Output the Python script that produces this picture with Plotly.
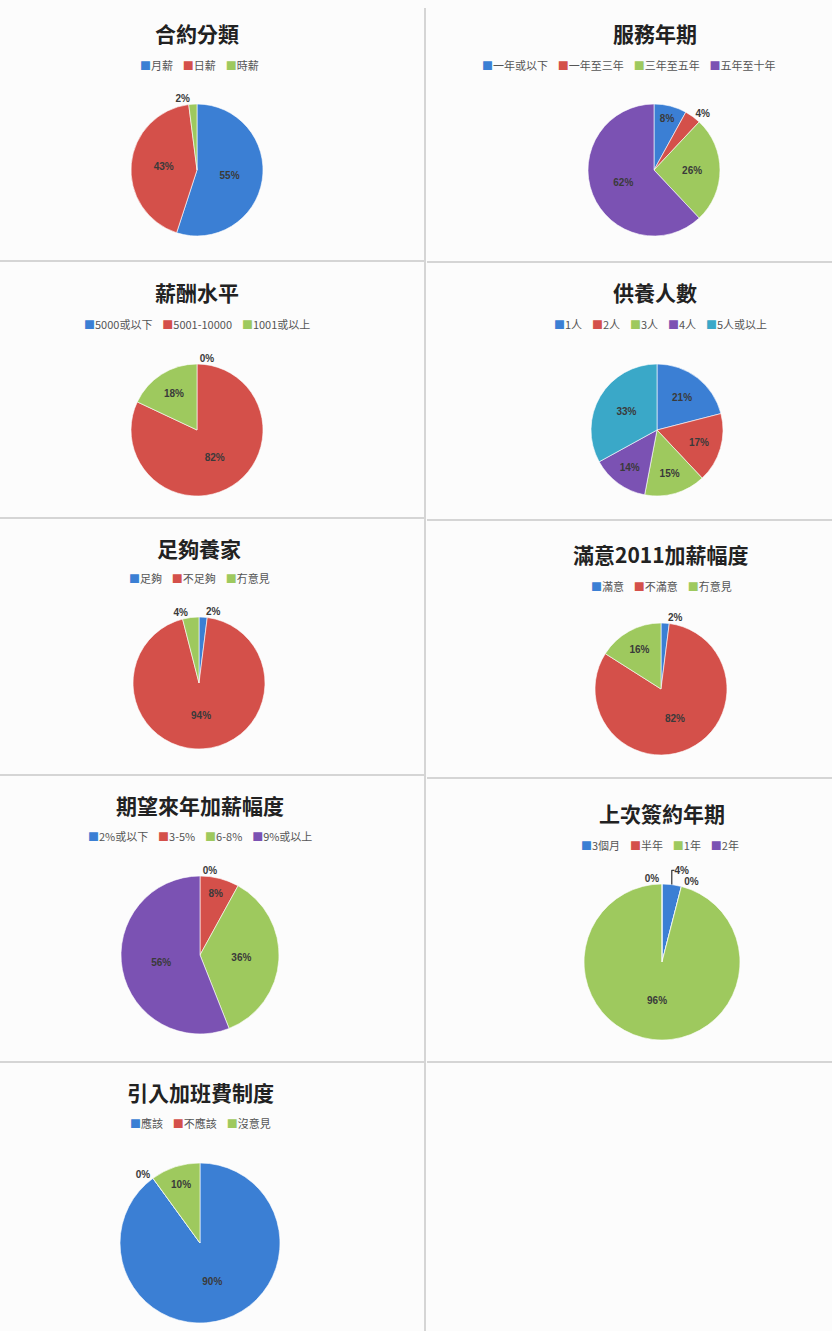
import plotly.graph_objects as go

W, H = 832, 1331

# ---- data ----
titles = ["合約分類", "服務年期", "薪酬水平", "供養人數", "足夠養家",
          "滿意2011加薪幅度", "期望來年加薪幅度", "上次簽約年期", "引入加班費制度"]
labels1 = ["月薪", "日薪", "時薪"]
values1 = [55, 43, 2]
labels2 = ["一年或以下", "一年至三年", "三年至五年", "五年至十年"]
values2 = [8, 4, 26, 62]
labels3 = ["5000或以下", "5001-10000", "1001或以上"]
values3 = [0, 82, 18]
labels4 = ["1人", "2人", "3人", "4人", "5人或以上"]
values4 = [21, 17, 15, 14, 33]
labels5 = ["足夠", "不足夠", "冇意見"]
values5 = [2, 94, 4]
labels6 = ["滿意", "不滿意", "冇意見"]
values6 = [2, 82, 16]
labels7 = ["2%或以下", "3-5%", "6-8%", "9%或以上"]
values7 = [0, 8, 36, 56]
labels8 = ["3個月", "半年", "1年", "2年"]
values8 = [4, 0, 96, 0]
labels9 = ["應該", "不應該", "沒意見"]
values9 = [90, 0, 10]

all_labels = [labels1, labels2, labels3, labels4, labels5, labels6, labels7, labels8, labels9]
all_values = [values1, values2, values3, values4, values5, values6, values7, values8, values9]

# ---- style / layout ----
colors = ["#3b7fd4", "#d4504a", "#9ec95e", "#7b52b3", "#3aa8c8"]
# pie centre (px), radius (px), title y, legend y
pies = [
    (197, 170, 66, 33, 65),
    (654, 170, 66, 33, 65),
    (197, 430, 66, 292, 324),
    (657, 430, 66, 292, 324),
    (199, 683, 66, 548, 578),
    (661, 689, 66, 554, 586),
    (200, 955, 79, 805, 836),
    (662, 962, 78, 813, 845),
    (200, 1243, 80, 1092, 1123),
]
title_x = [197, 655, 197, 655, 199, 661, 200, 662, 200]
legend_x = [199, 480, 197, 660, 199, 661, 200, 660, 200]
legend_anchor = ["center", "left", "center", "center", "center", "center", "center", "center", "center"]

fig = go.Figure()
annotations = []
for i, (labs, vals) in enumerate(zip(all_labels, all_values)):
    cx, cy, r, ty, ly = pies[i]
    pos = ["inside" if v >= 8 else "outside" for v in vals]
    fig.add_trace(go.Pie(
        labels=labs, values=vals, sort=False, direction="clockwise", rotation=0,
        marker=dict(colors=colors[:len(labs)], line=dict(color="#ffffff", width=0.6)),
        texttemplate="<b>%{percent:.0%}</b>", textposition=pos,
        insidetextfont=dict(size=10, color="#3a3a3a", family="Liberation Sans Narrow, Liberation Sans"),
        outsidetextfont=dict(size=10, color="#3a3a3a", family="Liberation Sans Narrow, Liberation Sans"),
        showlegend=False, hoverinfo="label+percent",
        domain=dict(x=[(cx - r) / W, (cx + r) / W], y=[1 - (cy + r) / H, 1 - (cy - r) / H]),
    ))
    annotations.append(dict(
        x=title_x[i] / W, y=1 - ty / H, xref="paper", yref="paper",
        text="<b>" + titles[i] + "</b>", showarrow=False, xanchor="center", yanchor="middle",
        font=dict(size=21, color="#222222", family="Noto Sans CJK TC"),
    ))
    leg = "    ".join(
        f"<span style='color:{colors[j]}'>■</span>{lab}" for j, lab in enumerate(labs)
    )
    annotations.append(dict(
        x=legend_x[i] / W, y=1 - ly / H, xref="paper", yref="paper",
        text=leg, showarrow=False, xanchor=legend_anchor[i], yanchor="middle",
        font=dict(size=11, color="#555555", family="Noto Sans CJK TC"),
    ))

shapes = [
    dict(type="line", xref="paper", yref="paper", x0=425 / W, x1=425 / W, y0=0, y1=1 - 8 / H,
         line=dict(color="#c8c8c8", width=1.5)),
]
for y in [261, 518, 775, 1062]:
    shapes.append(dict(type="line", xref="paper", yref="paper", x0=0, x1=424 / W,
                       y0=1 - y / H, y1=1 - y / H, line=dict(color="#c8c8c8", width=1.5)))
for y in [262, 520, 778, 1062]:
    shapes.append(dict(type="line", xref="paper", yref="paper", x0=427 / W, x1=1,
                       y0=1 - y / H, y1=1 - y / H, line=dict(color="#c8c8c8", width=1.5)))

fig.update_layout(
    width=W, height=H, margin=dict(l=0, r=0, t=0, b=0),
    paper_bgcolor="#fcfcfc", plot_bgcolor="#fcfcfc",
    annotations=annotations, shapes=shapes,
)
fig.write_html("out.html")
